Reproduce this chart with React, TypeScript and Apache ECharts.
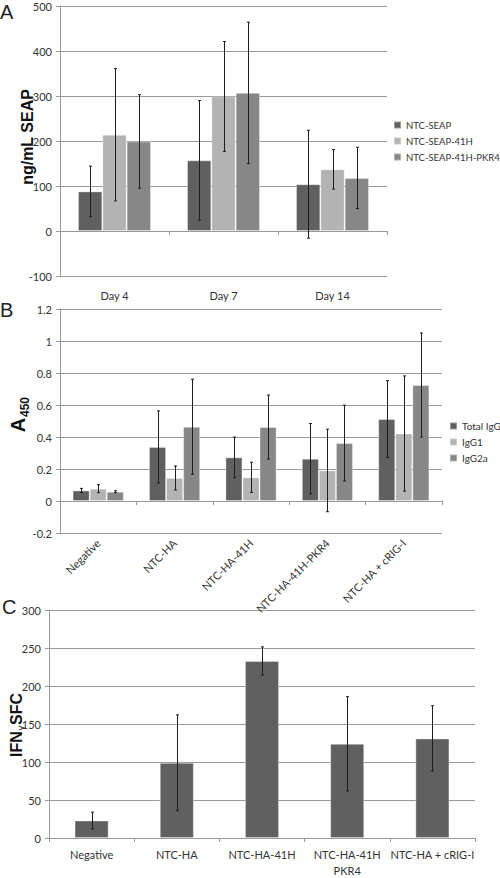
import React, { useEffect, useRef } from "react";
import * as echarts from "echarts";

// Panel A
const daysA = ["Day 4", "Day 7", "Day 14"];
const seapNames = ["NTC-SEAP", "NTC-SEAP-41H", "NTC-SEAP-41H-PKR4"];
const seapMean = [
  [88, 157, 104],
  [214, 299, 137],
  [199, 307, 118],
];
const seapErr = [
  [56, 133, 120],
  [147, 122, 44],
  [104, 157, 68],
];

// Panel B
const groupsB = ["Negative", "NTC-HA", "NTC-HA-41H", "NTC-HA-41H-PKR4", "NTC-HA + cRIG-I"];
const igNames = ["Total IgG", "IgG1", "IgG2a"];
const igMean = [
  [0.066, 0.338, 0.273, 0.264, 0.512],
  [0.077, 0.144, 0.148, 0.191, 0.422],
  [0.058, 0.464, 0.462, 0.362, 0.725],
];
const igErr = [
  [0.013, 0.225, 0.127, 0.22, 0.24],
  [0.025, 0.075, 0.094, 0.258, 0.36],
  [0.006, 0.297, 0.2, 0.237, 0.325],
];

// Panel C
const groupsC = ["Negative", "NTC-HA", "NTC-HA-41H", "NTC-HA-41H\nPKR4", "NTC-HA + cRIG-I"];
const sfcMean = [23, 99, 233, 124, 131];
const sfcErr = [11, 63, 18.5, 62, 43];

const barColors = ["#606060", "#b3b3b3", "#878787"];
const FONT = "Lato";
const TITLE_FONT = "Liberation Sans";
const AXIS_GRAY = "#9a9a9a";

function errorSeries(
  axisIdx: number,
  means: number[],
  errs: number[],
  s: number,
  n: number,
  gap: number
) {
  return {
    type: "custom",
    xAxisIndex: axisIdx,
    yAxisIndex: axisIdx,
    silent: true,
    z: 5,
    encode: { x: 0, y: 1 },
    data: means.map((m, i) => [i, m, errs[i]]),
    renderItem: (params: any, api: any) => {
      const idx = api.value(0);
      const mean = api.value(1);
      const e = api.value(2);
      const band = api.size([1, 0])[0];
      const bw = (band * (1 - gap)) / n;
      const cx = Math.round(api.coord([idx, mean])[0] + (s - (n - 1) / 2) * bw) + 0.5;
      const top = api.coord([idx, mean + e])[1];
      const bot = api.coord([idx, mean - e])[1];
      const st = { stroke: "#1e1e1e", lineWidth: 1 };
      return {
        type: "group",
        children: [
          { type: "line", shape: { x1: cx, y1: top, x2: cx, y2: bot }, style: st },
          { type: "line", shape: { x1: cx - 1.5, y1: top, x2: cx + 1.5, y2: top }, style: st },
          { type: "line", shape: { x1: cx - 1.5, y1: bot, x2: cx + 1.5, y2: bot }, style: st },
        ],
      };
    },
  };
}

function xAxisBase(gridIndex: number, data: string[], extraLabel: any) {
  return {
    type: "category",
    gridIndex,
    data,
    axisLine: { onZero: true, lineStyle: { color: AXIS_GRAY, width: 1 } },
    axisTick: { show: true, length: 4, lineStyle: { color: AXIS_GRAY } },
    axisLabel: { fontFamily: FONT, fontSize: 11, color: "#333", interval: 0, ...extraLabel },
    splitLine: { show: false },
  };
}

function yAxisBase(gridIndex: number, min: number, max: number, interval: number) {
  return {
    type: "value",
    gridIndex,
    min,
    max,
    interval,
    axisLine: { show: true, onZero: false, lineStyle: { color: AXIS_GRAY, width: 1 } },
    axisTick: { show: true, length: 4, lineStyle: { color: AXIS_GRAY } },
    axisLabel: { fontFamily: FONT, fontSize: 11, color: "#333", margin: 8 },
    splitLine: { show: true, lineStyle: { color: AXIS_GRAY, width: 1 } },
  };
}

function vText(text: string, x: number, y: number, size: number, bold: boolean) {
  return {
    type: "text",
    x,
    y,
    rotation: Math.PI / 2,
    silent: true,
    style: {
      text,
      fontFamily: TITLE_FONT,
      fontWeight: bold ? "bold" : "normal",
      fontSize: size,
      fill: "#111",
      align: "center",
      verticalAlign: "middle",
    },
  };
}

function letter(text: string, left: number, top: number) {
  return {
    type: "text",
    left,
    top,
    silent: true,
    style: { text, fontFamily: TITLE_FONT, fontSize: 20, fill: "#222" },
  };
}

export default function App() {
  const ref = useRef<HTMLDivElement>(null);
  useEffect(() => {
    if (!ref.current) return;
    const chart = echarts.init(ref.current, null, { renderer: "svg" });
    const gapAB = 0.33;
    const gapC = 0.6;
    const series: any[] = [];
    const barStyle = (c: string) => ({ color: c, borderColor: "rgba(255,255,255,0.35)", borderWidth: 1 });
    seapNames.forEach((name, s) => {
      series.push({
        type: "bar",
        name,
        xAxisIndex: 0,
        yAxisIndex: 0,
        data: seapMean[s],
        barGap: "0%",
        barCategoryGap: "33%",
        itemStyle: barStyle(barColors[s]),
      });
    });
    seapNames.forEach((_, s) => series.push(errorSeries(0, seapMean[s], seapErr[s], s, 3, gapAB)));
    igNames.forEach((name, s) => {
      series.push({
        type: "bar",
        name,
        xAxisIndex: 1,
        yAxisIndex: 1,
        data: igMean[s],
        barGap: "0%",
        barCategoryGap: "33%",
        itemStyle: barStyle(barColors[s]),
      });
    });
    igNames.forEach((_, s) => series.push(errorSeries(1, igMean[s], igErr[s], s, 3, gapAB)));
    series.push({
      type: "bar",
      name: "IFN-γ SFC",
      xAxisIndex: 2,
      yAxisIndex: 2,
      data: sfcMean,
      barCategoryGap: "60%",
      itemStyle: barStyle(barColors[0]),
    });
    series.push(errorSeries(2, sfcMean, sfcErr, 0, 1, gapC));

    const legendStyle = (size: number) => ({
      orient: "vertical",
      padding: 0,
      itemWidth: 7,
      itemHeight: 7,
      itemGap: 4,
      icon: "rect",
      textStyle: { fontFamily: FONT, fontSize: size, color: "#333", lineHeight: 12 },
    });

    chart.setOption({
      animation: false,
      backgroundColor: "#ffffff",
      grid: [
        { left: 60, top: 6, width: 327, height: 270 },
        { left: 60, top: 309, width: 382, height: 224 },
        { left: 49, top: 610, width: 426, height: 235 },
      ],
      xAxis: [
        xAxisBase(0, daysA, { margin: 14 }),
        xAxisBase(1, groupsB, { rotate: 45, margin: 8 }),
        xAxisBase(2, groupsC, { margin: 8, lineHeight: 16 }),
      ],
      yAxis: [yAxisBase(0, -100, 500, 100), yAxisBase(1, -0.2, 1.2, 0.2), yAxisBase(2, 0, 300, 50)],
      legend: [
        { ...legendStyle(9.5), data: seapNames, left: 393, top: 119 },
        { ...legendStyle(10), data: igNames, left: 449, top: 420 },
      ],
      graphic: [
        letter("A", 0, 2),
        letter("B", 0, 300),
        letter("C", 2, 597),
        vText("ng/mL SEAP", 27, 137, 16, true),
        vText("A", 18, 425, 20, true),
        vText("450", 25, 407, 12, true),
        vText("IFN", 16, 744, 16, true),
        vText("γ", 21, 728, 9, false),
        vText("SFC", 16, 709, 16, true),
      ],
      series,
    });
    return () => chart.dispose();
  }, []);
  return (
    <div
      ref={ref}
      style={{ position: "absolute", left: 0, top: 0, width: 500, height: 878, background: "#fff" }}
    />
  );
}
